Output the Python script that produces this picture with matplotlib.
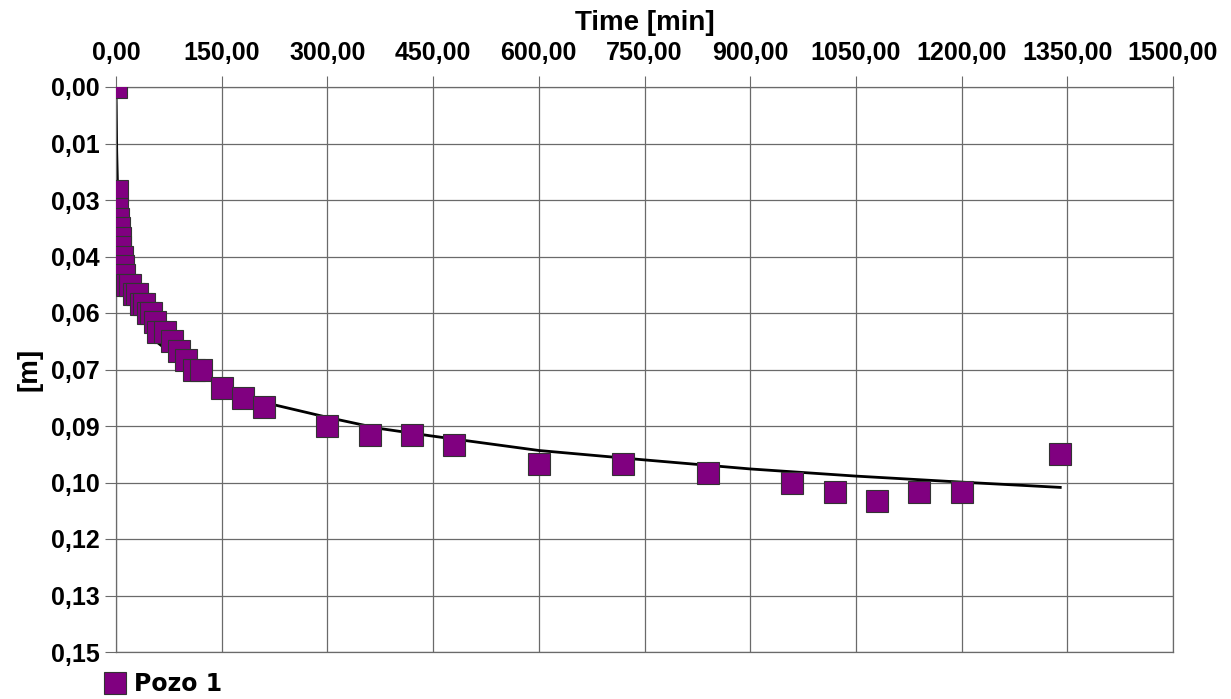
import matplotlib
matplotlib.use("Agg")
import matplotlib.pyplot as plt
from matplotlib.lines import Line2D
import numpy as np

plt.rcParams['font.family'] = ['Liberation Sans', 'DejaVu Sans']

# Observed drawdown (Pozo 1)
time_min = [0, 1, 2, 3, 4, 5, 6, 8, 10, 12, 15, 20, 25, 30, 35, 40, 45, 50, 55,
            60, 70, 80, 90, 100, 110, 120, 150, 180, 210, 300, 360, 420, 480,
            600, 720, 840, 960, 1020, 1080, 1140, 1200, 1340]
drawdown_m = [0.0, 0.0275, 0.0325, 0.035, 0.0375, 0.040, 0.0425, 0.045, 0.0475,
              0.050, 0.0525, 0.0525, 0.055, 0.055, 0.0575, 0.0575, 0.060, 0.060,
              0.0625, 0.065, 0.065, 0.0675, 0.070, 0.0725, 0.075, 0.075, 0.080,
              0.0825, 0.085, 0.090, 0.0925, 0.0925, 0.095, 0.100, 0.100, 0.1025,
              0.105, 0.1075, 0.110, 0.1075, 0.1075, 0.0975]

# Fitted curve
fit_time = [0, 0.3, 1, 2, 3, 5, 10, 20, 40, 60, 100, 150, 225, 300, 372, 446,
            600, 750, 900, 1050, 1200, 1340]
fit_s = [0.0016, 0.005, 0.017, 0.025, 0.030, 0.036, 0.045, 0.053, 0.062, 0.068,
         0.074, 0.079, 0.0844, 0.0877, 0.0906, 0.0926, 0.0965, 0.0990, 0.1014,
         0.1033, 0.1049, 0.1063]

x_ticks = [0, 150, 300, 450, 600, 750, 900, 1050, 1200, 1350, 1500]
x_labels = ['0,00', '150,00', '300,00', '450,00', '600,00', '750,00', '900,00',
            '1050,00', '1200,00', '1350,00', '1500,00']
y_ticks = [0.0, 0.015, 0.03, 0.045, 0.06, 0.075, 0.09, 0.105, 0.12, 0.135, 0.15]
y_labels = ['0,00', '0,01', '0,03', '0,04', '0,06', '0,07', '0,09', '0,10',
            '0,12', '0,13', '0,15']

W, H = 1231, 699
fig = plt.figure(figsize=(W / 100, H / 100), dpi=100)
L, R, T, B = 116, 1173, 87, 652
ax = fig.add_axes([L / W, 1 - B / H, (R - L) / W, (B - T) / H])

purple = '#800080'
grid_c = '#6a6a6a'

ax.plot(fit_time, fit_s, color='black', lw=2.0, zorder=2)
ax.plot(time_min, drawdown_m, linestyle='none', marker='s', markersize=15.5,
        markerfacecolor=purple, markeredgecolor='#333333', markeredgewidth=0.8,
        zorder=3)

ax.set_xlim(0, 1500)
ax.set_ylim(0.15, 0.0)
ax.xaxis.tick_top()
ax.xaxis.set_label_position('top')
ax.set_xticks(x_ticks)
ax.set_xticklabels(x_labels)
ax.set_yticks(y_ticks)
ax.set_yticklabels(y_labels)

for lbl in ax.get_xticklabels() + ax.get_yticklabels():
    lbl.set_fontweight('bold')
    lbl.set_fontsize(18)

ax.tick_params(axis='x', direction='out', length=8, width=0.8, color=grid_c,
               pad=8)
ax.tick_params(axis='y', direction='out', length=8, width=0.8, color=grid_c,
               pad=4)
ax.grid(True, color=grid_c, lw=0.9, zorder=0)
ax.set_axisbelow(True)
for s in ax.spines.values():
    s.set_color(grid_c)
    s.set_linewidth(0.9)

ax.set_xlabel('Time [min]', fontsize=20, fontweight='bold', labelpad=8)
ax.set_ylabel('[m]', fontsize=20, fontweight='bold', labelpad=6)

handle = Line2D([], [], linestyle='none', marker='s', markersize=15.5,
                markerfacecolor=purple, markeredgecolor='#333333',
                markeredgewidth=0.8)
leg = fig.legend([handle], ['Pozo 1'], loc='center left',
                 bbox_to_anchor=(80 / W, 1 - 684 / H), frameon=False,
                 handletextpad=0.2, handlelength=1.2,
                 prop={'family': 'DejaVu Sans', 'weight': 'bold', 'size': 17})

fig.savefig('out.png', dpi=100)
